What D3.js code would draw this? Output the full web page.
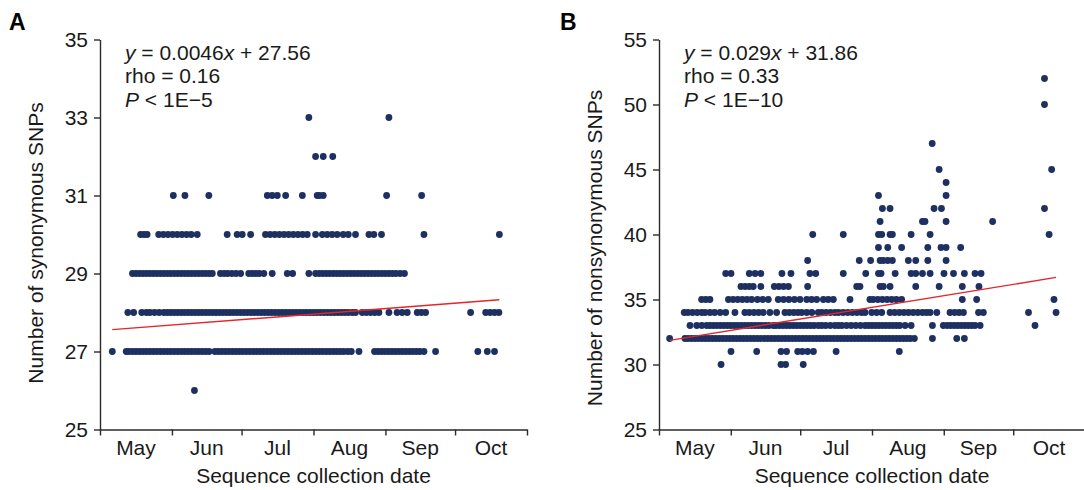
<!DOCTYPE html>
<html><head><meta charset="utf-8">
<script src="https://cdn.jsdelivr.net/npm/d3@7"></script>
<style>
body{margin:0;background:#fff;}
svg{display:block;font-family:"Liberation Sans",Arial,Helvetica,sans-serif;}
</style></head><body>
<svg id="chart" width="1084" height="490"></svg>
<script>
// ---------- data (days are offsets from 1 May 2022) ----------
const monthLabels = ["May","Jun","Jul","Aug","Sep","Oct"];
const startDate = [2022, 4, 1];   // 1 May
const endDate = [2022, 10, 1];    // 1 Nov

const synTicks = [25,27,29,31,33,35];
const synCounts = [26,27,28,29,30,31,32,33];
const synDays = [
  [40.7],
  [5.3,11.3,12.5,14,15.5,17,18.5,20,21.5,23,24.5,26,27.5,29,30.5,32,33.5,35,36.5,38,39.5,41,42.5,44,45.5,47,49.5,51,52.5,54,55.5,57,58.5,60,61.5,63,64.5,66,67.5,69,70.5,72,73.5,75,76.5,78,79.5,81,82.5,84,85.5,87,88.5,90,91.5,93,94.5,96,97.5,99,100.5,102,103.5,105,106.7,108.3,111.6,118.3,119.8,121.3,122.8,124.3,125.8,127.3,128.8,130.3,131.8,133.3,134.8,136.3,137.8,139.6,144.6,162.8,166.9,170],
  [12,14.5,18,20,21.5,23.5,25.5,27.5,29,30.5,32,33.5,35,36.5,38,39.5,41,42.5,44,45.5,47,48.5,50,51.5,53,54.5,56,57.5,59,60.5,62,63.5,65,66.5,68,69.5,71,72.5,74,75.5,77,78.5,80,81.5,83,84.5,86,87.5,89,90.5,92,93.5,95,96.5,98,99.5,101,102.5,104,105.5,107,108.7,110.1,113,114.8,116.6,118.4,120.2,124.5,128,130.2,132.4,136.7,138.5,140.3,159.7,166.2,168.1,170,171.9],
  [14,15.5,17,18.5,20,21.5,23,24.5,26,27.5,29,30.5,32,33.5,35,36.5,38,39.5,41,42.5,44,45.5,47,48.4,51.9,53.5,55,56.8,58.6,60.6,64.1,65.6,67.1,68.6,70.6,74.2,80.7,83,90,92.9,94.5,96,97.5,99,100.5,102,103.5,105,106.5,108,109.5,111,112.5,114,115.5,117,118.5,120,121.5,123,124.5,126,127.5,129.3,131.2],
  [17.5,19,20.3,25.3,27.3,29.3,31.3,33.3,35.3,37.3,39.3,41.9,54.8,59.1,61.3,64.9,71.3,73.3,75.3,77.3,79.3,81.3,83.3,85.3,87.3,89.3,92.9,95.8,97.9,100,102.2,104.8,107,110.1,115.9,118,121.3,139.6,172.1],
  [31.6,36.6,46.9,72.1,74.2,76.4,80,87.2,93.6,94.6,96.2,123.5,138.6],
  [92.9,96.2,100.3],
  [90,124.5]
];
const synFit = [0.0046, 27.56];   // slope per day, intercept
const synText = ["0.0046", "27.56", "0.16", "1E\u22125"];

const nonTicks = [25,30,35,40,45,50,55];
const nonCounts = [30,31,32,33,34,35,36,37,38,39,40,41,42,43,44,45,47,50,52];
const nonDays = [
  [26.8,52.7,54.7,62.3],
  [31.1,42.2,52.7,55.1,59.9,61.9,64.2,66.7,76.5,103.8],
  [4.6,11.2,12.5,14,15.5,17,18.5,20,21.5,23,24.5,26,27.5,29,30.5,32,33.5,35,36.5,38,39.5,41,42.5,44,45.5,47,48.5,50,51.5,53,54.5,56,57.5,59,60.5,62,63.5,65,66.5,68,69.5,71,72.5,74,75.5,77,78.5,80,81.5,83,84.5,86,87.5,89,90.5,92,93.5,95,96.5,98,99.5,101,102.5,104,105.5,107,108.5,110.3,118.1,128.6,131.9],
  [13.4,16.3,18.5,20.6,22,23.5,25,26.5,28,29.5,31,32.5,34,35.5,37,38.5,40,41.5,43,44.5,46,47.5,49.4,50.5,52,53.5,55,56.5,58,59.5,61,62.5,64,65.5,67,68.8,70.3,72,74,76,77.5,79,81,83,85,87,89,90.5,92,93.5,95,96.5,98,99.5,101,102.5,104,106.3,108.9,118.1,122.8,124.5,126,127.5,129,130.5,132,133.5,135,136.5,138.7,162.4],
  [10.9,12.5,14.5,16.5,18.5,19.9,22,24,26.4,28.8,32.8,37.1,39,41,43,45,47.9,50.8,54.4,56.3,58.2,60,61.6,63.8,66,68.8,70.3,72.2,74.1,76,77.5,79.5,81.5,83.5,85.5,87.5,89,91.9,94,96.2,99.8,101.8,103.8,105.8,107.8,109.8,111.8,113.8,115.5,117.1,120,125.7,127.7,129.6,131.5,138,140.1,159.6,171.5],
  [18.4,20.2,22,30,32,34,36,38,40,42.5,44.8,47.2,51.5,53.8,56.1,58.5,60.9,63.8,65.9,68.1,71,73.1,75.3,82.5,91.1,92.5,94.5,96.5,98.5,100.5,102.5,104.8,131,137.2,170.6],
  [35.4,37.2,39,40.7,44,49.8,51.8,53.8,55.9,64.2,85.4,86.8,95.5,96.9,99.8,110.9,121,131,138.2],
  [28.8,31.1,39,41.5,44,53.1,57,65.2,67.7,79.6,89.3,94.8,95.9,102,108.9,110.9,113.8,117.1,123.1,127.2,131.9,136.5,139.1],
  [64.2,86.5,91.4,95.5,96.9,98.8,100.8,107.7,110.9,116.1,124],
  [94.8,98.8,104.8,116.1,121.8,124,130.3],
  [66.4,79.6,94.8,96.2,99.8,100.8,108.9,117.1,168.5],
  [95.5,113.8,114.9,124,144.1],
  [96.5,99.8,118.8,122,166.5],
  [94.8,124],
  [124],
  [121,169.6],
  [118],
  [166.5],
  [166.5]
];
const nonFit = [0.029, 31.86];
const nonText = ["0.029", "31.86", "0.33", "1E\u221210"];

// ---------- drawing ----------
const svg = d3.select("#chart");
svg.append("rect").attr("width",1084).attr("height",490).attr("fill","#fff");

const t0 = new Date(...startDate), t1 = new Date(...endDate);
const dayToDate = d => new Date(t0.getTime() + d * 86400000);
const FONT = 21, INK = "#1a1a1a", AXIS = "#2a2a2a", DOT = "#1d3061", RED = "#e3262a";

function panel(o) {
  const g = svg.append("g");
  const x = d3.scaleTime().domain([t0, t1]).range([o.left, o.right]);
  const y = d3.scaleLinear().domain([o.ticks[0], o.ticks[o.ticks.length-1]]).range([429.5, 39.5]);

  // points
  const pts = [];
  o.counts.forEach((c, i) => o.days[i].forEach(d => pts.push({d, c})));
  g.append("g").selectAll("circle").data(pts).join("circle")
    .attr("cx", p => x(dayToDate(p.d))).attr("cy", p => y(p.c))
    .attr("r", 3.4).attr("fill", DOT);

  // regression line from first to last sample
  const allDays = pts.map(p => p.d);
  const dMin = d3.min(allDays), dMax = d3.max(allDays);
  const f = d => o.fit[0] * (d - dMin) + o.fit[1];
  g.append("line")
    .attr("x1", x(dayToDate(dMin))).attr("y1", y(f(dMin)))
    .attr("x2", x(dayToDate(dMax))).attr("y2", y(f(dMax)))
    .attr("stroke", RED).attr("stroke-width", 1.4);

  // y axis
  const ya = g.append("g").attr("transform", `translate(${o.left},0)`)
    .call(d3.axisLeft(y).tickValues(o.ticks).tickSize(6).tickSizeOuter(0).tickPadding(6));
  // x axis (ticks at month boundaries)
  const monthStarts = d3.timeMonth.range(t0, d3.timeDay.offset(t1, 1));
  const xa = g.append("g").attr("transform", `translate(0,429.5)`)
    .call(d3.axisBottom(x).tickValues(monthStarts).tickFormat("").tickSize(6).tickSizeOuter(0));
  [ya, xa].forEach(a => {
    a.selectAll("path,line").attr("stroke", AXIS).attr("stroke-width", 1.4);
    a.selectAll("text").attr("font-size", FONT).attr("fill", INK)
      .attr("font-family", '"Liberation Sans",Arial,sans-serif');
  });

  // month labels centred in each month band
  g.append("g").selectAll("text").data(monthLabels).join("text")
    .attr("x", (m, i) => (x(monthStarts[i]) + x(monthStarts[i+1])) / 2)
    .attr("y", 455).attr("text-anchor", "middle")
    .attr("font-size", FONT).attr("fill", INK).text(m => m);

  // axis titles
  g.append("text").attr("x", (o.left + o.right) / 2).attr("y", 483)
    .attr("text-anchor", "middle").attr("font-size", FONT).attr("fill", INK)
    .text("Sequence collection date");
  g.append("text").attr("transform", `translate(${o.left - 57},${o.titleY}) rotate(-90)`)
    .attr("text-anchor", "middle").attr("font-size", FONT).attr("fill", INK)
    .text(o.yTitle);

  // annotation
  const ax = o.left + 25;
  const l1 = g.append("text").attr("x", ax).attr("y", 59.5).attr("font-size", FONT).attr("fill", INK);
  l1.append("tspan").attr("font-style", "italic").text("y");
  l1.append("tspan").text(" = " + o.txt[0]);
  l1.append("tspan").attr("font-style", "italic").text("x");
  l1.append("tspan").text(" + " + o.txt[1]);
  g.append("text").attr("x", ax).attr("y", 83).attr("font-size", FONT).attr("fill", INK)
    .text("rho = " + o.txt[2]);
  const l3 = g.append("text").attr("x", ax).attr("y", 106.5).attr("font-size", FONT).attr("fill", INK);
  l3.append("tspan").attr("font-style", "italic").text("P");
  l3.append("tspan").text(" < " + o.txt[3]);

  // panel letter
  g.append("text").attr("x", o.letterX).attr("y", 29.5).attr("font-size", 23)
    .attr("font-weight", "bold").attr("fill", "#000").text(o.letter);
}

panel({left: 100, right: 527, ticks: synTicks, counts: synCounts, days: synDays, fit: synFit,
       txt: synText, yTitle: "Number of synonymous SNPs", titleY: 243, letter: "A", letterX: 9});
panel({left: 659, right: 1085, ticks: nonTicks, counts: nonCounts, days: nonDays, fit: nonFit,
       txt: nonText, yTitle: "Number of nonsynonymous SNPs", titleY: 248, letter: "B", letterX: 560});
</script>
</body></html>
